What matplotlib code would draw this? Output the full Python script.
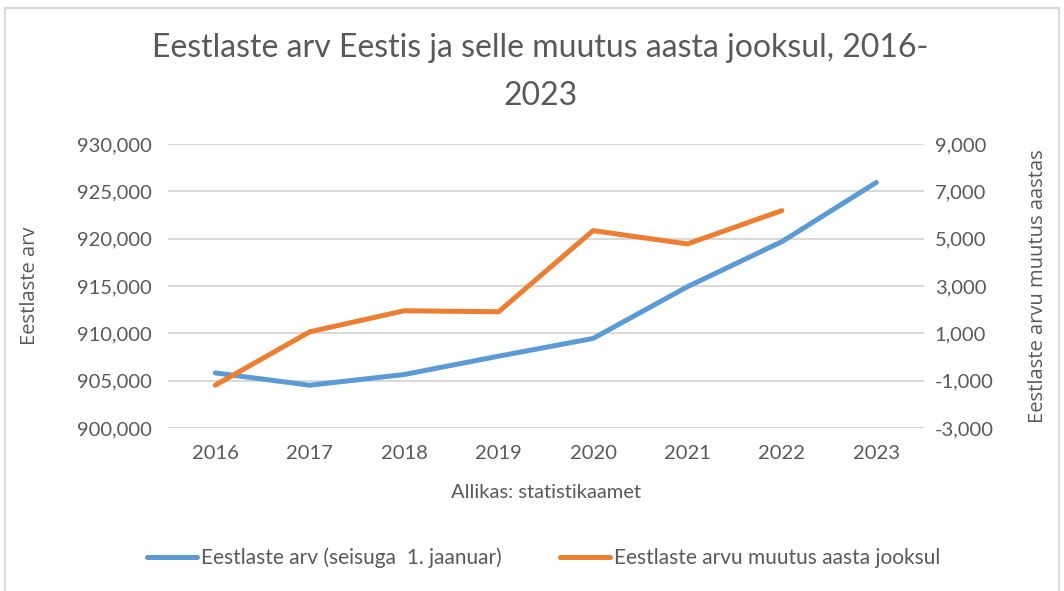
import matplotlib.pyplot as plt
import matplotlib.ticker as mticker
from matplotlib.patches import Rectangle

years = ['2016', '2017', '2018', '2019', '2020', '2021', '2022', '2023']
eestlased = [905820, 904520, 905650, 907590, 909460, 914930, 919690, 925940]
muutus = [-1190, 1065, 1954, 1911, 5341, 4778, 6188]

left_ticks = [900000, 905000, 910000, 915000, 920000, 925000, 930000]
right_ticks = [-3000, -1000, 1000, 3000, 5000, 7000, 9000]

plt.rcParams['font.family'] = ['Lato', 'DejaVu Sans']
txt = '#595959'
blue = '#5B9BD5'
orange = '#ED7D31'

fig = plt.figure(figsize=(10.64, 5.91), dpi=100)
fig.patches.append(Rectangle((0.005, -0.01), 0.99, 0.997, transform=fig.transFigure,
                             fill=False, edgecolor='#D9D9D9', linewidth=1.5))

ax1 = fig.add_axes([0.158, 0.2758, 0.71, 0.4805])
ax2 = ax1.twinx()

x = list(range(len(years)))
l1, = ax1.plot(x, eestlased, color=blue, lw=3.6, solid_capstyle='round', zorder=3)
l2, = ax2.plot(x[:len(muutus)], muutus, color=orange, lw=3.6, solid_capstyle='round', zorder=3)

ax1.set_xlim(-0.5, len(years) - 0.5)
ax1.set_ylim(900000, 930000)
ax2.set_ylim(-3000, 9000)
ax1.set_yticks(left_ticks)
ax2.set_yticks(right_ticks)
ax1.yaxis.set_major_formatter(mticker.FuncFormatter(lambda v, p: f'{int(v):,}'))
ax2.yaxis.set_major_formatter(mticker.FuncFormatter(lambda v, p: f'{int(v):,}'))
ax1.set_xticks(x)
ax1.set_xticklabels(years)

ax1.grid(axis='y', color='#D9D9D9', lw=1.5)
ax1.set_axisbelow(True)
for a in (ax1, ax2):
    for s in a.spines.values():
        s.set_visible(False)
    a.tick_params(length=0, labelsize=14.5, colors=txt)
ax1.tick_params(axis='y', pad=12)
ax2.tick_params(axis='y', pad=8)
ax1.tick_params(axis='x', pad=12)

ax1.set_ylabel('Eestlaste arv', fontsize=14.5, color=txt, family='Open Sans', labelpad=26)
ax2.set_ylabel('Eestlaste arvu muutus aastas', fontsize=14.5, color=txt, family='Open Sans', labelpad=25)
ax1.set_xlabel('Allikas: statistikaamet', fontsize=14.5, color=txt, labelpad=16)

fig.text(0.508, 0.879, 'Eestlaste arv Eestis ja selle muutus aasta jooksul, 2016-\n2023',
         ha='center', va='center', fontsize=23, color=txt, linespacing=1.75)

fig.legend([l1, l2], ['Eestlaste arv (seisuga  1. jaanuar)', 'Eestlaste arvu muutus aasta jooksul'],
           loc='center', bbox_to_anchor=(0.511, 0.056), ncol=2, frameon=False,
           fontsize=15, labelcolor=txt, handlelength=2.4, handletextpad=0.2,
           columnspacing=2.8)

fig.savefig('out.png', dpi=100)
